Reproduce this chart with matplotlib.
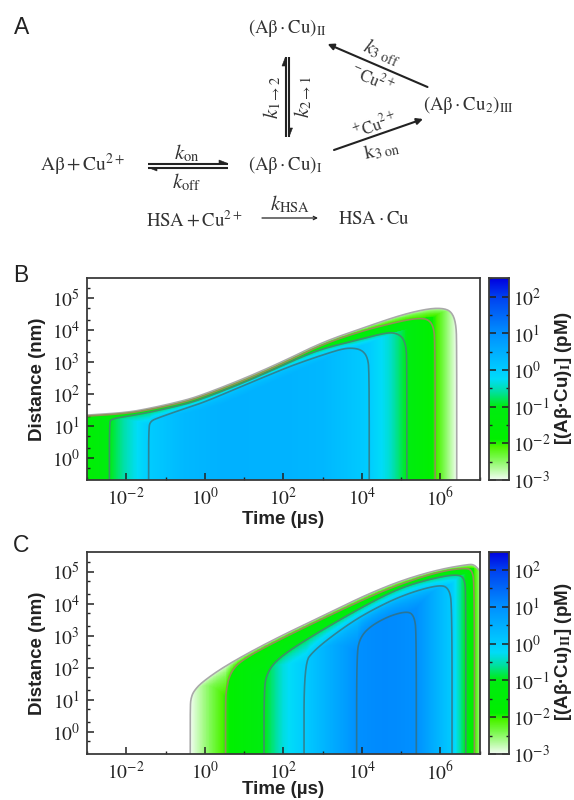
import numpy as np
import matplotlib
matplotlib.use("Agg")
import matplotlib.pyplot as plt
from matplotlib.colors import LinearSegmentedColormap, Normalize
from matplotlib.patches import Polygon

plt.rcParams['mathtext.fontset'] = 'stix'
plt.rcParams['font.family'] = ['Liberation Sans', 'DejaVu Sans']

W, H = 574, 800

# colour scale, log10 of concentration
cbar_ticks = [-3, -2, -1, 0, 1, 2]
cbar_labels = ['$10^{-3}$', '$10^{-2}$', '$10^{-1}$', '$10^{0}$', '$10^{1}$', '$10^{2}$']
cmap_pos = [-3, -2.7, -2.4, -2.1, -1.9, -1.0, -0.6, -0.25, 0, 1, 2, 2.5]
cmap_col = ['#f2fdf2', '#b4fb9c', '#78f94a', '#4cf400', '#00f000', '#00ec10', '#00e0a0', '#00dcf8',
            '#00ccff', '#0090ff', '#0040f0', '#0000e0']

# axis ticks, log10
time_ticks = [-2, 0, 2, 4, 6]
time_labels = ['$10^{-2}$', '$10^{0}$', '$10^{2}$', '$10^{4}$', '$10^{6}$']
time_minor = [-3, -1, 1, 3, 5, 7]
dist_ticks = [0, 1, 2, 3, 4, 5]
dist_labels = ['$10^{0}$', '$10^{1}$', '$10^{2}$', '$10^{3}$', '$10^{4}$', '$10^{5}$']

# panel B outlines (log10 time, log10 distance), one per level
b_levels = [-3, -2, -1, 0]
b_t = [
    [-3, -2, -1.4, -0.5, 0, 1, 2, 3, 4, 5, 5.7, 6.1, 6.3, 6.4, 6.42, 6.42],
    [-3, -2, -1.4, -0.5, 0, 1, 2, 3, 4, 5, 5.45, 5.7, 5.83, 5.87, 5.87],
    [-2.43, -2.43, -2.38, -2, -1.4, -0.5, 0, 1, 2, 2.41, 3, 4, 4.5, 4.8, 5.03, 5.13, 5.15, 5.15],
    [-1.43, -1.43, -1.38, -1.2, -0.5, 0, 1, 2, 2.41, 3, 3.5, 3.75, 4.0, 4.15, 4.19, 4.19],
]
b_d = [
    [1.34, 1.42, 1.55, 1.8, 2.0, 2.48, 3.02, 3.62, 4.05, 4.47, 4.67, 4.68, 4.55, 4.2, 3.6, -1],
    [1.31, 1.39, 1.51, 1.75, 1.95, 2.42, 2.96, 3.55, 3.97, 4.28, 4.37, 4.33, 4.1, 3.6, -1],
    [-1, 1.1, 1.22, 1.3, 1.43, 1.68, 1.88, 2.36, 2.9, 3.13, 3.42, 3.72, 3.88, 3.93, 3.8, 3.5, 3.0, -1],
    [-1, 0.95, 1.15, 1.25, 1.55, 1.75, 2.27, 2.78, 2.97, 3.22, 3.41, 3.44, 3.38, 3.15, 2.7, -1],
]
# panel B colour along the bottom edge
b_prof_t = [-3, -2.43, -2.0, -1.43, -0.5, 0.5, 2, 3, 4.19, 4.7, 5.15, 5.87, 6.42]
b_prof_v = [-1.7, -1, -0.5, 0, 0.33, 0.45, 0.42, 0.35, 0, -0.4, -1, -2, -3]

# panel C outlines
c_levels = [-3, -2, -1, 0, 1]
c_t = [
    [-0.37, -0.37, -0.35, -0.28, -0.06, 0.55, 1.73, 3.18, 4.1, 5.04, 5.97, 6.72, 6.86, 6.98, 7.1, 7.1],
    [0.53, 0.53, 0.55, 0.64, 0.93, 2.05, 4.1, 5.04, 5.97, 6.63, 6.81, 6.87, 6.87],
    [1.51, 1.51, 1.58, 1.86, 2.7, 4.1, 5.04, 5.97, 6.49, 6.63, 6.65, 6.65],
    [2.53, 2.53, 2.79, 3.45, 4.1, 5.04, 5.97, 6.23, 6.3, 6.3],
    [3.87, 3.87, 3.95, 4.2, 4.7, 5.18, 5.34, 5.39, 5.39],
]
c_d = [
    [-1, 0.8, 1.05, 1.27, 1.56, 2.08, 2.87, 3.72, 4.27, 4.74, 5.07, 5.23, 5.22, 5.07, 4.9, -1],
    [-1, 1.0, 1.3, 1.82, 2.24, 2.97, 4.17, 4.64, 5.0, 5.12, 5.05, 4.63, -1],
    [-1, 1.3, 1.82, 2.29, 2.97, 3.96, 4.53, 4.84, 4.92, 4.74, 4.2, -1],
    [-1, 2.13, 2.55, 3.18, 3.7, 4.27, 4.6, 4.48, 3.9, -1],
    [-1, 2.4, 2.92, 3.28, 3.62, 3.77, 3.6, 3.1, -1],
]
c_prof_t = [-0.37, 0.53, 1.51, 2.0, 2.53, 3.2, 3.88, 4.6, 5.39, 6.3, 6.65, 6.87, 7.1]
c_prof_v = [-3, -2, -1, -0.35, 0, 0.5, 1, 1.08, 1, 0, -1, -2, -3]

line_cols = {-3: '#a9a9a9', -2: '#929058', -1: '#3f8f6c', 0: '#2f8494', 1: '#2a7596'}

cmap = LinearSegmentedColormap.from_list(
    'conc', [((p + 3) / 5.5, c) for p, c in zip(cmap_pos, cmap_col)], N=512)
norm = Normalize(-3, 2.5)


def px_axes(x0, y0, x1, y1):
    return fig.add_axes([x0 / W, 1 - y1 / H, (x1 - x0) / W, (y1 - y0) / H])


def round_line(a, b, passes=3):
    # corner cutting so the outlines are not kinked
    p = np.column_stack([a, b]).astype(float)
    for _ in range(passes):
        q = 0.75 * p[:-1] + 0.25 * p[1:]
        r = 0.25 * p[:-1] + 0.75 * p[1:]
        mid = np.empty((2 * len(q), 2))
        mid[0::2] = q
        mid[1::2] = r
        p = np.vstack([p[0], mid, p[-1]])
    return p[:, 0], p[:, 1]


def top_curves(tt, ts, ds, raw_ds):
    # level tops per column; past the ends of a level they follow the level below it
    tops = []
    for k, (a, b) in enumerate(zip(ts, ds)):
        top = np.interp(tt, a, b, left=-9, right=-9)
        if k > 0:
            parent = tops[k - 1]
            ip = np.argmax(top)
            top[ip:] = parent[ip:] - (parent[ip] - top[ip])
            if raw_ds[k][0] <= -1:
                il = np.argmax(top >= raw_ds[k][1])
                top[:il] = parent[:il] - (parent[il] - top[il])
            top = np.minimum(top, parent - 0.01)
        tops.append(top)
    return tops


def build_field(tt, dd, levels, ts, ds, raw_ds, prof_t, prof_v):
    field = np.zeros((len(dd), len(tt)))
    prof = np.interp(tt, prof_t, prof_v)
    tops = top_curves(tt, ts, ds, raw_ds)
    for i in range(len(tt)):
        col = [top[i] for top in tops]
        xp = [col[-1] - 1.5] + col[::-1]
        fp = [levels[-1] + 1] + levels[::-1]
        cap = np.interp(dd, xp, fp)
        # steep just under each contour, flat further in
        base = np.floor(cap)
        cap = base + (cap - base) ** 0.5
        field[:, i] = np.minimum(prof[i], cap)
    return field


def draw_panel(box, cbox, y_zero, levels, raw_t, raw_d, prof_t, prof_v, clabel, clabel_y, xpad):
    ts, ds = zip(*[round_line(a, b) for a, b in zip(raw_t, raw_d)])
    ax = px_axes(*box)
    tt = np.linspace(-3, 7, 900)
    dd = np.linspace(-1, 5.7, 700)
    field = build_field(tt, dd, levels, ts, ds, raw_d, prof_t, prof_v)
    mesh = ax.pcolormesh(10.0 ** tt, 10.0 ** dd, field, cmap=cmap, norm=norm, shading='auto', rasterized=True)
    ax.set_xscale('log')
    ax.set_yscale('log')
    ax.set_xlim(1e-3, 1e7)
    bottom = (y_zero - box[3]) / 32.0
    top = (y_zero - box[1]) / 32.0
    ax.set_ylim(10 ** bottom, 10 ** top)

    outer = np.column_stack([10.0 ** np.array(ts[0]), 10.0 ** np.array(ds[0])])
    if ts[0][0] == -3:
        outer = np.vstack([[1e-3, 0.1], outer])
    clip = Polygon(outer, closed=True, transform=ax.transData, fc='none', ec='none')
    ax.add_patch(clip)
    mesh.set_clip_path(clip)

    for lev, a, b in zip(levels, ts, ds):
        ax.plot(10.0 ** np.array(a), 10.0 ** np.array(b), color=line_cols[lev], lw=1.2, solid_joinstyle='round')

    ax.xaxis.set_major_locator(plt.FixedLocator(10.0 ** np.array(time_ticks)))
    ax.set_xticklabels(time_labels)
    ax.xaxis.set_minor_locator(plt.FixedLocator(10.0 ** np.array(time_minor)))
    ax.xaxis.set_minor_formatter(plt.NullFormatter())
    ax.yaxis.set_major_locator(plt.FixedLocator(10.0 ** np.array(dist_ticks)))
    ax.set_yticklabels(dist_labels)
    ax.yaxis.set_minor_locator(plt.LogLocator(base=10, subs=(2.0, 5.0), numticks=20))
    ax.yaxis.set_minor_formatter(plt.NullFormatter())
    ax.tick_params(which='major', direction='in', length=5, width=1.1, color='#222222',
                   labelsize=14, labelcolor='#222222', pad=5)
    ax.tick_params(which='minor', direction='in', length=2.5, width=1.0, color='#222222')
    for s in ax.spines.values():
        s.set_linewidth(1.3)
        s.set_color('#3a3a3a')
    ax.set_xlabel('Time (µs)', fontsize=13.5, fontweight='bold', color='#222222', labelpad=xpad)
    ax.set_ylabel('Distance (nm)', fontsize=13.5, fontweight='bold', color='#222222', labelpad=4)

    cax = px_axes(*cbox)
    cc = np.linspace(-3, 2.5, 400).reshape(-1, 1)
    cax.imshow(cc, origin='lower', cmap=cmap, norm=norm, aspect='auto', extent=[0, 1, -3, 2.5])
    cax.set_xticks([])
    cax.yaxis.tick_right()
    cax.set_yticks(cbar_ticks)
    cax.set_yticklabels(cbar_labels)
    cax.set_yticks([t + 0.5 for t in cbar_ticks], minor=True)
    cax.tick_params(which='major', axis='y', direction='in', length=5, width=1.1, color='#222222',
                    labelsize=14, labelcolor='#222222', pad=3, left=True, right=True)
    cax.tick_params(which='minor', axis='y', direction='in', length=2.5, width=1.0, color='#222222',
                    left=True, right=True)
    for s in cax.spines.values():
        s.set_linewidth(1.3)
        s.set_color('#3a3a3a')
    fig.text(563 / W, 1 - clabel_y / H, clabel, rotation=90, fontsize=13.5, fontweight='bold',
             color='#222222', ha='center', va='center')


fig = plt.figure(figsize=(W / 100, H / 100), dpi=100)

draw_panel((87, 278.3, 479.5, 480), (489, 278.3, 509, 480), 458, b_levels, b_t, b_d, b_prof_t, b_prof_v,
           r'[(Aβ·Cu)$_{\mathbf{I}}$] (pM)', 378, 1)
draw_panel((87, 551.7, 479.5, 754), (489, 551.7, 509, 754), 731.7, c_levels, c_t, c_d, c_prof_t, c_prof_v,
           r'[(Aβ·Cu)$_{\mathbf{II}}$] (pM)', 652, -1.5)

# scheme and panel letters, in pixel coordinates
sch = fig.add_axes([0, 0, 1, 1], facecolor='none')
sch.set_xlim(0, W)
sch.set_ylim(H, 0)
sch.axis('off')

for letter, lx, ly in [('A', 22, 27), ('B', 21, 275), ('C', 21, 546)]:
    sch.text(lx, ly, letter, fontsize=16.5, color='#222222', ha='center', va='center')

tc = '#333333'


def label(x, y, s, size=13.5, rot=0):
    sch.text(x, y, s, fontsize=size, color=tc, ha='center', va='center', rotation=rot, rotation_mode='anchor')


def arrow(x0, y0, x1, y1, lw=1.5, head='-|>', ms=9):
    sch.annotate('', xy=(x1, y1), xytext=(x0, y0),
                 arrowprops=dict(arrowstyle=head, lw=lw, color='#222222', mutation_scale=ms,
                                 shrinkA=0, shrinkB=0))


def half_arrow(x0, y0, x1, y1, sx, sy):
    # equilibrium arrow, the barb sits on one side only
    ux, uy = np.sign(x1 - x0), np.sign(y1 - y0)
    sch.plot([x0, x1], [y0, y1], color='#222222', lw=1.5, solid_capstyle='butt')
    sch.fill([x1, x1 - 9 * ux + 3.5 * sx, x1 - 9 * ux], [y1, y1 - 9 * uy + 3.5 * sy, y1 - 9 * uy],
             color='#222222', lw=0.4)


label(287, 28, r'$(\mathrm{A\beta}\cdot\mathrm{Cu})_{\mathrm{II}}$')
label(468, 105, r'$(\mathrm{A\beta}\cdot\mathrm{Cu}_2)_{\mathrm{III}}$')
label(285, 165, r'$(\mathrm{A\beta}\cdot\mathrm{Cu})_{\mathrm{I}}$')
label(83, 165, r'$\mathrm{A\beta}+\mathrm{Cu}^{2+}$', size=14)
label(187, 153, r'$k_{\mathrm{on}}$', size=15)
label(187, 182, r'$k_{\mathrm{off}}$', size=15)
label(194, 220, r'$\mathrm{HSA}+\mathrm{Cu}^{2+}$')
label(290, 204, r'$k_{\mathrm{HSA}}$', size=15)
label(374, 220, r'$\mathrm{HSA}\cdot\mathrm{Cu}$')
label(272, 97, r'$k_{1\rightarrow 2}$', size=15, rot=90)
label(303, 97, r'$k_{2\rightarrow 1}$', size=15, rot=90)
label(382, 53, r'$k_{3\ \mathrm{off}}$', size=14.5, rot=-23)
label(373, 78, r'$^{-}\mathrm{Cu}^{2+}$', size=12, rot=-23)
label(374, 124, r'$^{+}\mathrm{Cu}^{2+}$', size=12, rot=19)
label(382, 150, r'$\mathrm{k}_{3\ \mathrm{on}}$', size=14.5, rot=12)

half_arrow(148, 163.5, 228, 163.5, 0, -1)
half_arrow(228, 167.5, 148, 167.5, 0, 1)
half_arrow(285.5, 137, 285.5, 57, -1, 0)
half_arrow(289, 57, 289, 137, 1, 0)
arrow(427.5, 87, 327.6, 44)
arrow(334, 150, 423, 119)
arrow(262, 218, 318, 218, lw=0.9, head='->', ms=6)

fig.savefig('out.png', dpi=100)
